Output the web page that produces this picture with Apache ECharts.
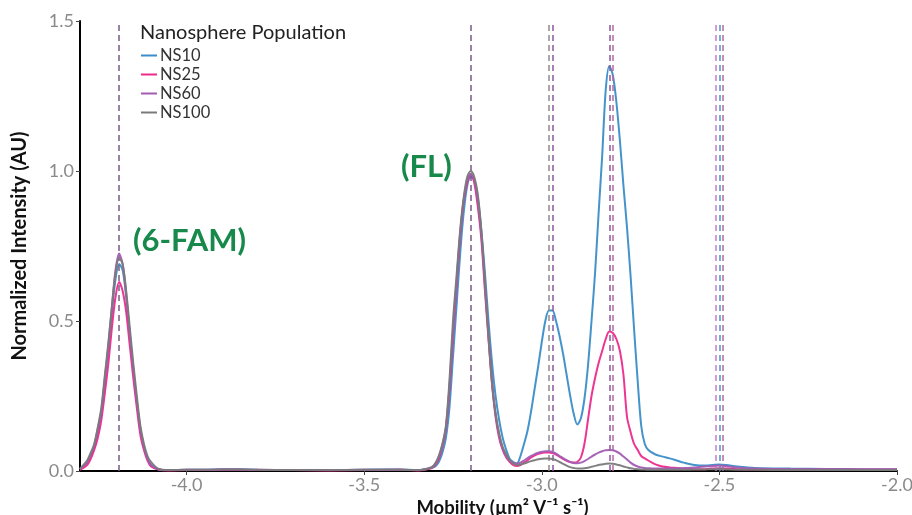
<!DOCTYPE html>
<html>
<head>
<meta charset="utf-8">
<script src="https://cdn.jsdelivr.net/npm/echarts@6/dist/echarts.min.js"></script>
<style>
  html, body { margin: 0; padding: 0; background: #fff; }
  #chart { width: 912px; height: 515px; }
</style>
</head>
<body>
<div id="chart"></div>
<script>
// Electrophoretic mobility (µm² V⁻¹ s⁻¹)
const mobility = [
  -4.30, -4.28, -4.27, -4.26, -4.25, -4.24, -4.23, -4.22, -4.21, -4.20,
  -4.19, -4.18, -4.17, -4.16, -4.15, -4.14, -4.13, -4.12, -4.11, -4.10,
  -4.08, -4.05, -4.00, -3.95, -3.90, -3.85, -3.80, -3.70, -3.60, -3.50,
  -3.40, -3.35, -3.33, -3.31, -3.30, -3.29, -3.28, -3.27, -3.26, -3.25,
  -3.24, -3.23, -3.22, -3.21, -3.20, -3.19, -3.18, -3.17, -3.16, -3.15,
  -3.14, -3.13, -3.12, -3.11, -3.10, -3.09, -3.08, -3.07, -3.06, -3.05,
  -3.04, -3.03, -3.02, -3.01, -3.00, -2.99, -2.98, -2.97, -2.96, -2.95,
  -2.94, -2.93, -2.92, -2.91, -2.90, -2.89, -2.88, -2.87, -2.86, -2.85,
  -2.84, -2.83, -2.82, -2.81, -2.80, -2.79, -2.78, -2.77, -2.76, -2.75,
  -2.74, -2.73, -2.72, -2.71, -2.70, -2.68, -2.66, -2.64, -2.62, -2.60,
  -2.57, -2.54, -2.52, -2.50, -2.48, -2.45, -2.40, -2.30, -2.20, -2.10,
  -2.00
];

// Normalized intensity per nanosphere population
const ns10 = [
  0.005, 0.028, 0.050, 0.080, 0.130, 0.190, 0.300, 0.410, 0.530, 0.640,
  0.690, 0.670, 0.580, 0.460, 0.340, 0.230, 0.140, 0.080, 0.040, 0.020,
  0.006, 0.003, 0.004, 0.004, 0.006, 0.006, 0.004, 0.003, 0.003, 0.004,
  0.005, 0.003, 0.005, 0.010, 0.015, 0.030, 0.060, 0.110, 0.210, 0.380,
  0.550, 0.720, 0.860, 0.950, 0.980, 0.970, 0.910, 0.800, 0.660, 0.500,
  0.360, 0.250, 0.170, 0.110, 0.070, 0.040, 0.030, 0.025, 0.050, 0.090,
  0.135, 0.200, 0.275, 0.350, 0.430, 0.500, 0.535, 0.535, 0.500, 0.450,
  0.390, 0.320, 0.250, 0.190, 0.155, 0.175, 0.240, 0.350, 0.500, 0.660,
  0.860, 1.050, 1.270, 1.350, 1.320, 1.230, 1.100, 0.950, 0.810, 0.650,
  0.470, 0.300, 0.150, 0.090, 0.070, 0.055, 0.048, 0.042, 0.035, 0.028,
  0.020, 0.018, 0.020, 0.022, 0.020, 0.015, 0.010, 0.008, 0.007, 0.006,
  0.006
];
const ns25 = [
  0.004, 0.020, 0.040, 0.070, 0.110, 0.170, 0.260, 0.360, 0.480, 0.580,
  0.630, 0.600, 0.530, 0.420, 0.310, 0.210, 0.120, 0.070, 0.035, 0.015,
  0.005, 0.002, 0.003, 0.003, 0.004, 0.004, 0.003, 0.003, 0.002, 0.003,
  0.004, 0.002, 0.004, 0.010, 0.020, 0.040, 0.080, 0.140, 0.270, 0.450,
  0.620, 0.780, 0.900, 0.960, 0.990, 0.960, 0.880, 0.770, 0.600, 0.440,
  0.290, 0.180, 0.110, 0.070, 0.045, 0.030, 0.020, 0.017, 0.020, 0.028,
  0.036, 0.045, 0.052, 0.057, 0.060, 0.062, 0.062, 0.060, 0.055, 0.048,
  0.040, 0.034, 0.030, 0.028, 0.030, 0.045, 0.090, 0.170, 0.250, 0.310,
  0.360, 0.400, 0.440, 0.465, 0.460, 0.440, 0.400, 0.320, 0.180, 0.130,
  0.090, 0.070, 0.050, 0.042, 0.035, 0.022, 0.015, 0.012, 0.010, 0.008,
  0.006, 0.006, 0.008, 0.009, 0.008, 0.006, 0.005, 0.005, 0.005, 0.005,
  0.005
];
const ns60 = [
  0.006, 0.030, 0.055, 0.085, 0.140, 0.200, 0.310, 0.420, 0.550, 0.670,
  0.725, 0.690, 0.590, 0.460, 0.340, 0.230, 0.140, 0.080, 0.040, 0.020,
  0.006, 0.003, 0.004, 0.004, 0.005, 0.005, 0.004, 0.003, 0.003, 0.004,
  0.004, 0.003, 0.006, 0.013, 0.025, 0.048, 0.085, 0.145, 0.280, 0.470,
  0.630, 0.790, 0.900, 0.970, 0.990, 0.970, 0.900, 0.790, 0.620, 0.450,
  0.300, 0.190, 0.120, 0.075, 0.050, 0.035, 0.027, 0.025, 0.028, 0.035,
  0.043, 0.050, 0.056, 0.061, 0.064, 0.066, 0.066, 0.064, 0.058, 0.050,
  0.043, 0.036, 0.030, 0.027, 0.026, 0.028, 0.033, 0.040, 0.048, 0.055,
  0.061, 0.066, 0.069, 0.070, 0.069, 0.065, 0.058, 0.048, 0.038, 0.028,
  0.020, 0.015, 0.012, 0.010, 0.009, 0.008, 0.008, 0.008, 0.009, 0.010,
  0.012, 0.015, 0.017, 0.018, 0.016, 0.012, 0.008, 0.005, 0.004, 0.004,
  0.004
];
const ns100 = [
  0.008, 0.035, 0.060, 0.090, 0.145, 0.210, 0.320, 0.430, 0.550, 0.660,
  0.710, 0.690, 0.600, 0.480, 0.360, 0.250, 0.150, 0.090, 0.050, 0.030,
  0.008, 0.003, 0.004, 0.004, 0.005, 0.005, 0.004, 0.003, 0.003, 0.004,
  0.004, 0.003, 0.005, 0.012, 0.025, 0.050, 0.090, 0.150, 0.300, 0.500,
  0.650, 0.800, 0.910, 0.980, 1.000, 0.980, 0.920, 0.800, 0.630, 0.450,
  0.290, 0.190, 0.125, 0.080, 0.055, 0.035, 0.025, 0.020, 0.022, 0.025,
  0.029, 0.033, 0.036, 0.039, 0.041, 0.042, 0.042, 0.040, 0.036, 0.030,
  0.024, 0.018, 0.013, 0.010, 0.008, 0.008, 0.009, 0.011, 0.014, 0.017,
  0.020, 0.022, 0.024, 0.025, 0.024, 0.022, 0.019, 0.015, 0.012, 0.009,
  0.007, 0.006, 0.005, 0.005, 0.004, 0.004, 0.004, 0.004, 0.004, 0.004,
  0.005, 0.005, 0.006, 0.006, 0.005, 0.004, 0.004, 0.003, 0.003, 0.003,
  0.003
];

// Peak mobility markers (dashed guides)
const guideMobility = [-4.19, -3.20, -2.982, -2.973, -2.813, -2.803, -2.512, -2.502, -2.493];
const guideColors = ['#7b5a86', '#7b5a86', '#8d8d8d', '#8e55a0', '#8e55a0', '#b26c9c', '#c47fcc', '#4a93d0', '#b26c9c'];

const seriesNames = ['NS10', 'NS25', 'NS60', 'NS100'];
const seriesValues = [ns10, ns25, ns60, ns100];
const seriesColors = ['#3a8dc8', '#ec2a8d', '#a25db3', '#7a7a7a'];

const xTicks = [-4.0, -3.5, -3.0, -2.5, -2.0];

const FONT = 'Lato, "Noto Sans", sans-serif';

const chart = echarts.init(document.getElementById('chart'), null, { renderer: 'canvas' });

const lineSeries = seriesNames.map((name, i) => ({
  name,
  type: 'line',
  data: mobility.map((m, k) => [m, seriesValues[i][k]]),
  showSymbol: false,
  smooth: 0.3,
  lineStyle: { width: 2, color: seriesColors[i], opacity: 0.95 },
  itemStyle: { color: seriesColors[i] },
  z: 3 + i
}));

lineSeries.push({
  name: 'guides',
  type: 'line',
  data: [],
  silent: true,
  z: 2,
  markLine: {
    silent: true,
    symbol: ['none', 'none'],
    label: { show: false },
    animation: false,
    data: guideMobility.map((m, i) => ({
      xAxis: m,
      lineStyle: { color: guideColors[i], type: [6, 4], width: 1.5 }
    }))
  }
});

chart.setOption({
  animation: false,
  backgroundColor: '#ffffff',
  grid: { left: 80, right: 15, top: 21, bottom: 44, containLabel: false, outerBoundsMode: 'none' },
  title: {
    text: 'Nanosphere Population',
    left: 140,
    top: 23,
    padding: 0,
    textStyle: { fontFamily: FONT, fontSize: 20, fontWeight: 'normal', color: '#222' }
  },
  legend: {
    data: seriesNames,
    orient: 'vertical',
    left: 141,
    top: 47,
    padding: 0,
    itemGap: 2,
    itemWidth: 16,
    itemHeight: 2,
    icon: 'rect',
    textStyle: { fontFamily: FONT, fontSize: 16.5, lineHeight: 16, color: '#333', padding: [0, 0, 0, -2] }
  },
  xAxis: {
    type: 'value',
    min: -4.3,
    max: -2.0,
    name: 'Mobility (µm² V⁻¹ s⁻¹)',
    nameLocation: 'middle',
    nameGap: 23,
    nameTextStyle: { fontFamily: FONT, fontSize: 18.5, fontWeight: 'bold', color: '#111', padding: [0, 0, 0, 28] },
    axisLine: { lineStyle: { color: '#000', width: 2 } },
    axisTick: { show: true, length: 4, lineStyle: { color: '#444' }, customValues: xTicks },
    axisLabel: {
      customValues: xTicks,
      formatter: v => v.toFixed(1),
      fontFamily: FONT, fontSize: 18, color: '#8a8a8a', margin: 5
    },
    splitLine: { show: false }
  },
  yAxis: {
    type: 'value',
    min: 0,
    max: 1.5,
    interval: 0.5,
    name: 'Normalized Intensity (AU)',
    nameLocation: 'middle',
    nameGap: 50,
    nameTextStyle: { fontFamily: FONT, fontSize: 20, fontWeight: 'bold', color: '#111' },
    axisLine: { show: true, lineStyle: { color: '#000', width: 2 } },
    axisTick: { show: true, length: 4, lineStyle: { color: '#444' } },
    axisLabel: {
      formatter: v => v.toFixed(1),
      fontFamily: FONT, fontSize: 18, color: '#8a8a8a', margin: 6
    },
    splitLine: { show: false }
  },
  graphic: [
    {
      type: 'text', x: 133, y: 241,
      style: { text: '(6-FAM)', fill: '#17894a', font: 'bold 31px ' + FONT, verticalAlign: 'middle' }
    },
    {
      type: 'text', x: 401, y: 167,
      style: { text: '(FL)', fill: '#17894a', font: 'bold 31px ' + FONT, verticalAlign: 'middle' }
    }
  ],
  series: lineSeries
});
</script>
</body>
</html>
